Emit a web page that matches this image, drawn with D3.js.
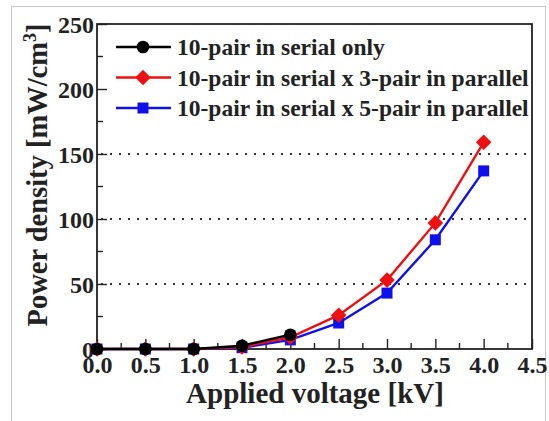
<!DOCTYPE html>
<html>
<head>
<meta charset="utf-8">
<script src="https://cdn.jsdelivr.net/npm/d3@7"></script>
<style>
  body { margin: 0; background: #fff; }
  svg text { font-family: "Liberation Serif", "Times New Roman", serif; font-weight: bold; fill: #222; }
</style>
</head>
<body>
<svg width="549" height="421"></svg>
<script>
// data
const voltage = [0, 0.5, 1.0, 1.5, 2.0, 2.5, 3.0, 3.5, 4.0];
const serialOnly = [0, 0, 0, 2.5, 11];
const serial3Parallel = [0, 0, 0, 1.5, 9, 26, 53, 97, 159];
const serial5Parallel = [0, 0, 0, 1, 7, 20, 43, 84, 137];
const xTicks = [0, 0.5, 1.0, 1.5, 2.0, 2.5, 3.0, 3.5, 4.0, 4.5];
const yTicks = [0, 50, 100, 150, 200, 250];
const gridValues = [50, 100, 150];
const legendLabels = [
  '10-pair in serial only',
  '10-pair in serial x 3-pair in parallel',
  '10-pair in serial x 5-pair in parallel'
];

const svg = d3.select('svg');
const margin = { top: 24, right: 17, bottom: 72, left: 97 };
const width = 549 - margin.left - margin.right;
const height = 421 - margin.top - margin.bottom;

// light grey outer frame
svg.append('rect')
  .attr('x', 11.5).attr('y', 6.5)
  .attr('width', 534).attr('height', 430)
  .attr('fill', 'none').attr('stroke', '#c8c8c8');

const g = svg.append('g').attr('transform', `translate(${margin.left},${margin.top})`);

const x = d3.scaleLinear().domain([0, 4.5]).range([0, width]);
const y = d3.scaleLinear().domain([0, 250]).range([height, 0]);

// dotted grid
g.selectAll('.grid')
  .data(gridValues)
  .enter().append('line')
  .attr('x1', 4).attr('x2', width)
  .attr('y1', d => y(d)).attr('y2', d => y(d))
  .attr('stroke', '#333').attr('stroke-width', 2)
  .attr('stroke-dasharray', '2,7');

// minor ticks
const minorX = d3.range(0.25, 4.5, 0.5);
const minorY = d3.range(25, 250, 50);
g.selectAll('.mx').data(minorX).enter().append('line')
  .attr('x1', d => x(d)).attr('x2', d => x(d))
  .attr('y1', height).attr('y2', height - 6)
  .attr('stroke', '#222').attr('stroke-width', 1.4);
g.selectAll('.my').data(minorY).enter().append('line')
  .attr('y1', d => y(d)).attr('y2', d => y(d))
  .attr('x1', 0).attr('x2', 6)
  .attr('stroke', '#222').attr('stroke-width', 1.4);

// axes
const xAxis = g.append('g')
  .attr('transform', `translate(0,${height})`)
  .call(d3.axisBottom(x).tickValues(xTicks).tickFormat(d3.format('.1f')).tickSizeInner(-10).tickSizeOuter(0).tickPadding(7));
const yAxis = g.append('g')
  .call(d3.axisLeft(y).tickValues(yTicks).tickSizeInner(-10).tickSizeOuter(0).tickPadding(3));

[xAxis, yAxis].forEach(a => {
  a.select('.domain').remove();
  a.selectAll('line').attr('stroke', '#222').attr('stroke-width', 1.4);
  a.selectAll('text').style('font-size', '24px').attr('fill', '#222');
});
yAxis.selectAll('text').attr('dy', '0.34em');

// plot box
g.append('rect')
  .attr('width', width).attr('height', height)
  .attr('fill', 'none').attr('stroke', '#222').attr('stroke-width', 1.8);

// axis titles
svg.append('text')
  .attr('x', 315).attr('y', 403)
  .attr('text-anchor', 'middle')
  .style('font-size', '29px')
  .text('Applied voltage [kV]');

const yTitle = svg.append('text')
  .attr('transform', 'translate(47,175) rotate(-90)')
  .attr('text-anchor', 'middle')
  .style('font-size', '28.5px');
yTitle.append('tspan').text('Power density [mW/cm');
yTitle.append('tspan').attr('dy', -11).style('font-size', '18px').text('3');
yTitle.append('tspan').attr('dy', 11).text(']');

// series
const line = d3.line().x((d, i) => x(voltage[i])).y(d => y(d));
const series = [
  { values: serial5Parallel, color: '#1010ee', shape: d3.symbolSquare, size: 121, rotate: 0 },
  { values: serial3Parallel, color: '#ee1010', shape: d3.symbolSquare, size: 121, rotate: 45 },
  { values: serialOnly, color: '#000000', shape: d3.symbolCircle, size: 125, rotate: 0 }
];

series.forEach(s => {
  g.append('path')
    .datum(s.values)
    .attr('fill', 'none')
    .attr('stroke', s.color)
    .attr('stroke-width', 2.4)
    .attr('d', line);
  g.selectAll(null)
    .data(s.values)
    .enter().append('path')
    .attr('transform', (d, i) => `translate(${x(voltage[i])},${y(d)}) rotate(${s.rotate})`)
    .attr('d', d3.symbol().type(s.shape).size(s.size))
    .attr('fill', s.color);
});

// legend
const legendOrder = [series[2], series[1], series[0]];
const legend = svg.append('g').attr('transform', 'translate(116,47)');
legendOrder.forEach((s, i) => {
  const row = legend.append('g').attr('transform', `translate(0,${i * 30.5})`);
  row.append('line').attr('x1', 0).attr('x2', 55)
    .attr('stroke', s.color).attr('stroke-width', 2.4);
  row.append('path')
    .attr('transform', `translate(27,0) rotate(${s.rotate})`)
    .attr('d', d3.symbol().type(s.shape).size(s.size))
    .attr('fill', s.color);
  row.append('text')
    .attr('x', 61).attr('dy', '0.34em')
    .style('font-size', '23.5px')
    .text(legendLabels[i]);
});
</script>
</body>
</html>
